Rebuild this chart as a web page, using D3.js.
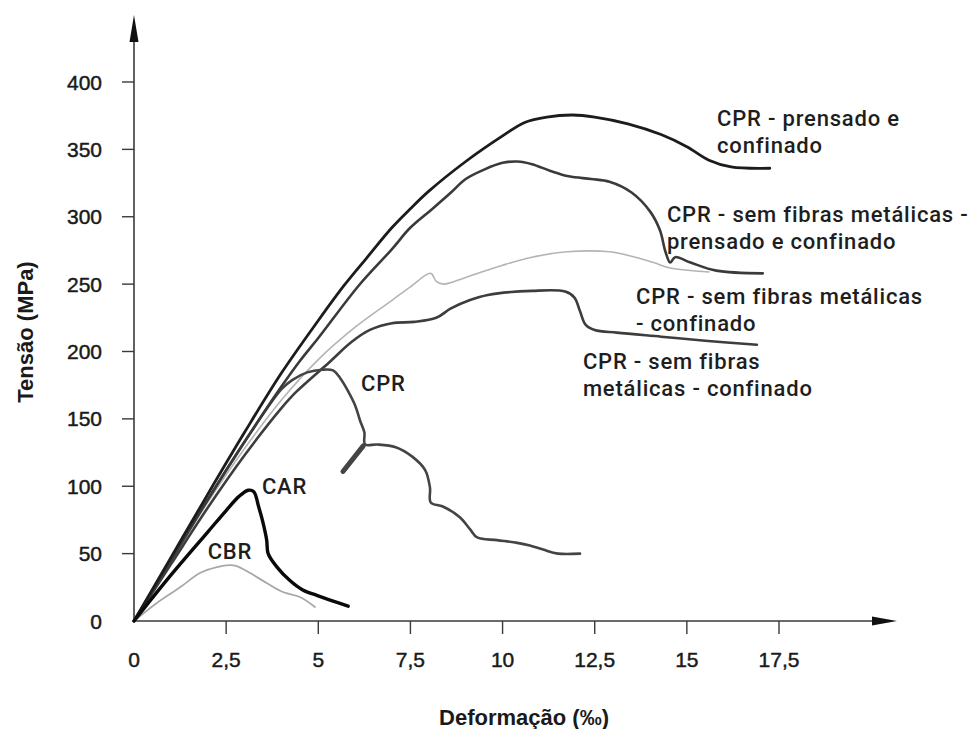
<!DOCTYPE html>
<html>
<head>
<meta charset="utf-8">
<script src="https://cdn.jsdelivr.net/npm/d3@7"></script>
<style>
  html, body { margin: 0; padding: 0; background: #fff; }
  svg { display: block; }
  .tick-label { font-family: "Liberation Sans", Arial, sans-serif; font-size: 21px; fill: #1a1a1a; stroke: #1a1a1a; stroke-width: 0.45px; }
  .axis-title { font-family: "Liberation Sans", Arial, sans-serif; font-size: 22px; font-weight: bold; fill: #1a1a1a; }
  .note { font-family: Roboto, "Open Sans", sans-serif; font-size: 22px; font-weight: 500; letter-spacing: 0.8px; fill: #1e1e1e; }
</style>
</head>
<body>
<svg id="chart" width="977" height="729"></svg>
<script>
// Stress–strain curves: [strain (‰), stress (MPa)]
const cprPrensadoConfinado = [[0,0],[1,47],[2,94],[3,140],[4,184],[5,223],[5.7,249],[6.3,269],[7,292],[7.5,306],[8,319],[9,341],[10,360],[10.6,370],[11.2,374],[11.9,375.5],[12.5,374],[13.4,369],[14.3,361],[15,352],[15.6,342],[16.2,337],[17.25,336]];
const cprSemFibrasPrensado = [[0,0],[1,45],[2,90],[3,133],[4,174],[4.5,193],[5,210],[6.1,249],[7,276],[7.5,292],[8.1,306],[8.6,318],[9,328],[9.5,335],[10,340],[10.4,341],[10.8,339],[11.3,334],[11.8,330],[12.4,328],[12.9,326],[13.5,318],[14.0,304],[14.27,290],[14.42,274],[14.55,266],[14.68,270],[15.1,266],[15.8,260],[17.06,258]];
const cprSemFibrasConfinadoA = [[0,0],[1,44],[2,88],[3,128],[4,164],[5,194],[6,218],[7,238],[7.5,248],[8.05,258],[8.2,252],[8.4,250],[9,255],[10,264],[10.8,270],[11.75,274],[12.9,274],[13.6,270],[14.1,266],[14.55,262],[15.6,259]];
const cprSemFibrasConfinadoB = [[0,0],[1,42],[2,84],[3,123],[4,158],[4.4,170],[5.3,192],[5.9,207],[6.4,216],[7,221],[7.6,222],[8.2,225],[8.6,232],[9.1,238],[9.6,242],[10.8,245],[11.7,244.5],[11.95,240],[12.1,230],[12.25,220],[12.5,216],[13.1,214],[14.3,211],[15.5,208],[16.9,205]];
const cpr = [[0,0],[1,45],[2,90],[3,133],[4,172],[4.3,179],[4.7,184.5],[5.1,186.5],[5.4,186],[5.6,180],[5.8,171],[6.0,160],[6.13,149],[6.25,140],[6.27,131],[6.6,131],[7.1,129],[7.55,122],[7.9,112],[8.03,99],[8.05,88],[8.38,85],[8.84,77],[9.12,68],[9.31,62],[9.85,60],[10.4,58],[10.74,56],[11.1,53],[11.5,50],[12.1,50]];
const cprSpur = [[5.67,111],[6.22,130]];
const car = [[0,0],[1,34],[2,66],[2.5,82],[2.85,92.5],[3.1,97],[3.25,96],[3.38,85],[3.5,73],[3.6,60],[3.64,50],[3.88,40],[4.23,30],[4.58,23],[4.96,19],[5.32,15.5],[5.81,11]];
const cbr = [[0,0],[0.62,13.4],[1.25,25],[1.79,35.6],[2.25,40],[2.6,41.5],[2.79,40.8],[3.15,35.6],[3.61,28],[4.04,21.5],[4.5,17.8],[4.91,10.4]];

// Axis ticks and labels
const xTicks = [0, 2.5, 5, 7.5, 10, 12.5, 15, 17.5];
const xTickLabels = ["0", "2,5", "5", "7,5", "10", "12,5", "15", "17,5"];
const yTicks = [0, 50, 100, 150, 200, 250, 300, 350, 400];
const yTickLabels = ["0", "50", "100", "150", "200", "250", "300", "350", "400"];

// Curve annotations: [text lines], anchor in data units
const notes = [
  { lines: ["CPR - prensado e", "confinado"], at: [15.82, 367] },
  { lines: ["CPR - sem fibras metálicas -", "prensado e confinado"], at: [14.46, 296] },
  { lines: ["CPR - sem fibras metálicas", "- confinado"], at: [13.62, 235] },
  { lines: ["CPR - sem fibras", "metálicas - confinado"], at: [12.18, 187] },
  { lines: ["CPR"], at: [6.16, 171] },
  { lines: ["CAR"], at: [3.47, 94] },
  { lines: ["CBR"], at: [2.0, 46] }
];

const svg = d3.select("#chart");
const x = d3.scaleLinear().domain([0, 17.5]).range([134, 779]);
const y = d3.scaleLinear().domain([0, 400]).range([621, 82]);

const axisColor = "#3a3a3a";

// Axes with arrow heads
const ax = svg.append("g");
ax.append("line").attr("x1", x(0)).attr("x2", 880).attr("y1", y(0)).attr("y2", y(0))
  .attr("stroke", axisColor).attr("stroke-width", 1.6);
ax.append("path").attr("d", `M${872},${y(0) - 4.5} L${897},${y(0)} L${872},${y(0) + 4.5} Z`).attr("fill", "#111");
ax.append("line").attr("x1", x(0)).attr("x2", x(0)).attr("y1", y(0)).attr("y2", 30)
  .attr("stroke", axisColor).attr("stroke-width", 1.6);
ax.append("path").attr("d", `M${x(0) - 4.5},${42} L${x(0)},${15} L${x(0) + 4.5},${42} Z`).attr("fill", "#111");

// X ticks
xTicks.forEach((t, i) => {
  if (t > 0) {
    ax.append("line").attr("x1", x(t)).attr("x2", x(t)).attr("y1", y(0)).attr("y2", y(0) + 13)
      .attr("stroke", axisColor).attr("stroke-width", 1.4);
  }
  ax.append("text").attr("class", "tick-label").attr("x", x(t)).attr("y", y(0) + 46)
    .attr("text-anchor", "middle").text(xTickLabels[i]);
});

// Y ticks
yTicks.forEach((t, i) => {
  if (t > 0) {
    ax.append("line").attr("x1", x(0) - 12).attr("x2", x(0)).attr("y1", y(t)).attr("y2", y(t))
      .attr("stroke", axisColor).attr("stroke-width", 1.4);
  }
  ax.append("text").attr("class", "tick-label").attr("x", 102).attr("y", y(t) + 7.5)
    .attr("text-anchor", "end").text(yTickLabels[i]);
});

// Axis titles
svg.append("text").attr("class", "axis-title").attr("text-anchor", "middle")
  .attr("transform", "translate(33,332) rotate(-90)").text("Tensão (MPa)");
svg.append("text").attr("class", "axis-title").attr("text-anchor", "middle")
  .attr("x", 524).attr("y", 725).text("Deformação (‰)");

// Curves
const line = d3.line().x(d => x(d[0])).y(d => y(d[1])).curve(d3.curveCatmullRom.alpha(0.5));
const series = [
  { data: cbr, color: "#a8a8a8", width: 1.8 },
  { data: cprSemFibrasConfinadoA, color: "#b4b4b4", width: 1.6 },
  { data: cprSemFibrasConfinadoB, color: "#3d3d3d", width: 2.6 },
  { data: cpr, color: "#444", width: 2.6 },
  { data: cprSpur, color: "#444", width: 5 },
  { data: cprSemFibrasPrensado, color: "#3a3a3a", width: 2.6 },
  { data: cprPrensadoConfinado, color: "#1c1c1c", width: 2.8 },
  { data: car, color: "#0a0a0a", width: 3.4 }
];
svg.append("g").selectAll("path").data(series).join("path")
  .attr("d", s => line(s.data))
  .attr("fill", "none")
  .attr("stroke", s => s.color)
  .attr("stroke-width", s => s.width)
  .attr("stroke-linejoin", "round")
  .attr("stroke-linecap", "round");

// Annotations
const ng = svg.append("g");
notes.forEach(n => {
  const t = ng.append("text").attr("class", "note").attr("x", x(n.at[0])).attr("y", y(n.at[1]));
  n.lines.forEach((l, i) => {
    t.append("tspan").attr("x", x(n.at[0])).attr("dy", i === 0 ? 0 : 27).text(l);
  });
});
</script>
</body>
</html>
